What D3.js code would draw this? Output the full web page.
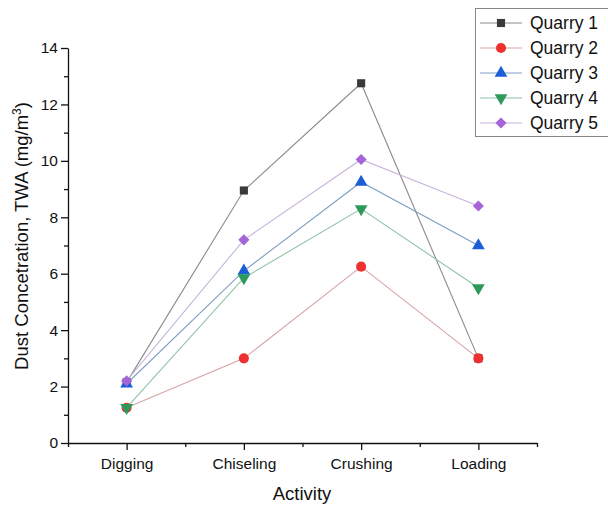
<!DOCTYPE html>
<html>
<head>
<meta charset="utf-8">
<script src="https://cdn.jsdelivr.net/npm/d3@7"></script>
<style>
  body { margin: 0; background: #fff; }
  svg { font-family: "Liberation Sans", Arial, sans-serif; }
</style>
</head>
<body>
<div id="chart"></div>
<script>
var activities = ["Digging", "Chiseling", "Crushing", "Loading"];
var quarry1 = [2.15, 8.95, 12.75, 3.0];
var quarry2 = [1.25, 3.0, 6.25, 3.0];
var quarry3 = [2.1, 6.1, 9.25, 7.0];
var quarry4 = [1.25, 5.85, 8.3, 5.5];
var quarry5 = [2.2, 7.2, 10.05, 8.4];
var seriesNames = ["Quarry 1", "Quarry 2", "Quarry 3", "Quarry 4", "Quarry 5"];
var yTicks = [0, 2, 4, 6, 8, 10, 12, 14];

var series = [
  {name: seriesNames[0], values: quarry1, marker: d3.symbolSquare, size: 66, fill: "#3a3a3a", line: "#8a8a8a", rot: 0},
  {name: seriesNames[1], values: quarry2, marker: d3.symbolCircle, size: 80, fill: "#ee3030", line: "#d9a3a3", rot: 0},
  {name: seriesNames[2], values: quarry3, marker: d3.symbolTriangle, size: 70, fill: "#1a5fd6", line: "#7f9fc4", rot: 0},
  {name: seriesNames[3], values: quarry4, marker: d3.symbolTriangle, size: 70, fill: "#2d9a5c", line: "#91c2a8", rot: 180},
  {name: seriesNames[4], values: quarry5, marker: d3.symbolSquare, size: 62, fill: "#a564d8", line: "#c8b4da", rot: 45}
];

var width = 608, height = 505;
var margin = {top: 48, right: 70, bottom: 62, left: 68};

var svg = d3.select("#chart").append("svg")
    .attr("width", width)
    .attr("height", height);

var x = d3.scaleLinear().domain([0, 4]).range([margin.left, 537]);
var y = d3.scaleLinear().domain([0, 14]).range([443, margin.top]);

// axes
var xAxis = svg.append("g")
    .attr("transform", "translate(0,443)")
    .call(d3.axisBottom(x)
      .tickValues(activities.map(function(d, i) { return i + 0.5; }))
      .tickFormat(function(d) { return activities[Math.floor(d)]; })
      .tickSize(7)
      .tickPadding(8)
      .tickSizeOuter(0));
xAxis.selectAll(".tick text").attr("font-size", 15.5).attr("fill", "#111");

svg.append("g")
    .attr("transform", "translate(0,443)")
    .call(d3.axisBottom(x).tickValues([0, 1, 2, 3, 4]).tickFormat("").tickSize(4).tickSizeOuter(0))
    .select(".domain").remove();

var yAxis = svg.append("g")
    .attr("transform", "translate(" + margin.left + ",0)")
    .call(d3.axisLeft(y).tickValues(yTicks).tickSize(7).tickPadding(3).tickSizeOuter(0));
yAxis.selectAll(".tick text").attr("font-size", 15.5).attr("fill", "#111");

svg.append("g")
    .attr("transform", "translate(" + margin.left + ",0)")
    .call(d3.axisLeft(y).tickValues([1, 3, 5, 7, 9, 11, 13]).tickFormat("").tickSize(4).tickSizeOuter(0))
    .select(".domain").remove();

svg.selectAll(".domain, .tick line").attr("stroke", "#111").attr("stroke-width", 1.3);

// axis titles
svg.append("text")
    .attr("x", 302)
    .attr("y", 500)
    .attr("text-anchor", "middle")
    .attr("font-size", 18.5)
    .attr("fill", "#111")
    .text("Activity");

var yt = svg.append("text")
    .attr("transform", "translate(28,236) rotate(-90)")
    .attr("text-anchor", "middle")
    .attr("font-size", 18.5)
    .attr("fill", "#111");
yt.append("tspan").text("Dust Concetration, TWA (mg/m");
yt.append("tspan").attr("font-size", 12).attr("dy", -7).text("3");
yt.append("tspan").attr("dy", 7).text(")");

// lines
var line = d3.line()
    .x(function(d, i) { return x(i + 0.5); })
    .y(function(d) { return y(d); });

series.forEach(function(s) {
  svg.append("path")
      .datum(s.values)
      .attr("fill", "none")
      .attr("stroke", s.line)
      .attr("stroke-width", 1.1)
      .attr("d", line);
});

series.forEach(function(s) {
  svg.selectAll(null)
      .data(s.values)
      .enter()
      .append("path")
      .attr("d", d3.symbol().type(s.marker).size(s.size))
      .attr("transform", function(d, i) {
        return "translate(" + x(i + 0.5) + "," + y(d) + ") rotate(" + s.rot + ")";
      })
      .attr("fill", s.fill);
});

// legend
var legend = svg.append("g");
legend.append("rect")
    .attr("x", 475.5)
    .attr("y", 8.5)
    .attr("width", 140)
    .attr("height", 128)
    .attr("fill", "#fff")
    .attr("stroke", "#888")
    .attr("stroke-width", 1);

series.forEach(function(s, i) {
  var ly = 23 + i * 25;
  legend.append("line")
      .attr("x1", 480).attr("x2", 522)
      .attr("y1", ly).attr("y2", ly)
      .attr("stroke", s.line)
      .attr("stroke-width", 1.1);
  legend.append("path")
      .attr("d", d3.symbol().type(s.marker).size(s.size))
      .attr("transform", "translate(501," + ly + ") rotate(" + s.rot + ")")
      .attr("fill", s.fill);
  legend.append("text")
      .attr("x", 530)
      .attr("y", ly + 6)
      .attr("font-size", 17.5)
      .attr("fill", "#111")
      .text(s.name);
});
</script>
</body>
</html>
